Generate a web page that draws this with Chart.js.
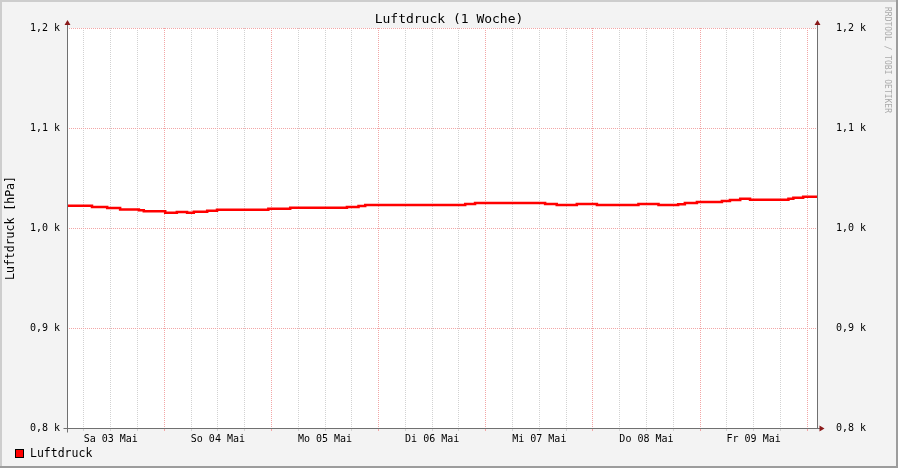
<!DOCTYPE html>
<html>
<head>
<meta charset="utf-8">
<title>Luftdruck (1 Woche)</title>
<script src="https://cdn.jsdelivr.net/npm/chart.js@4.4.1/dist/chart.umd.min.js"></script>
<style>
  html, body { margin: 0; padding: 0; background: #f3f3f3; }
  #wrap { width: 898px; height: 468px; position: relative; }
</style>
</head>
<body>
<div id="wrap"><canvas id="druck-chart"></canvas></div>
<script>
// Stunden seit Sa 03 Mai 00:00, jeweils Beginn einer Stufe
const hours = [2.2, 7.8, 11.2, 14.1, 18.3, 19.4, 24.2, 26.8, 29.1, 30.6, 33.6, 35.8,
  47.3, 52.2, 64.9, 67.5, 69.0, 91.4, 93.6, 109.3, 111.9, 116.4, 120.9, 130.2,
  134.7, 139.1, 140.6, 143.3, 148.9, 150.7, 153.0, 155.2, 163.8, 164.9, 167.1, 170.2];
// Luftdruck in hPa
const pressure = [1022.3, 1021, 1020, 1018.5, 1017.8, 1016.8, 1015.3, 1016, 1015.3, 1016.3, 1017.3, 1018.2,
  1019.2, 1020.2, 1021, 1022, 1023, 1024, 1025, 1024, 1023, 1024, 1023, 1024,
  1023, 1023.7, 1025, 1026, 1027, 1028, 1029.3, 1028.3, 1029.3, 1030.3, 1031.3, 1031.3];
const dayLabels = ["Sa 03 Mai", "So 04 Mai", "Mo 05 Mai", "Di 06 Mai", "Mi 07 Mai", "Do 08 Mai", "Fr 09 Mai"];
const yTicks = [800, 900, 1000, 1100, 1200];
const xMin = 2.2, xMax = 170.2;

const mono = "'DejaVu Sans Mono', monospace";
const gridGray = "#d2d2d2", gridRed = "#f2a6a6";

// alle 6 Stunden eine Gitterlinie, Mitternacht rot
let gridHours = [];
for (let h = 6; h <= 168; h += 6) gridHours.push(h);

const points = hours.map((h, i) => ({ x: h, y: pressure[i] }));

const fmtK = function (v) {
  return (v / 1000).toFixed(1).replace(".", ",") + " k";
};

const rrdFrame = {
  id: "rrdFrame",
  beforeDraw(c) {
    const ctx = c.ctx, a = c.chartArea;
    ctx.save();
    ctx.fillStyle = "#f3f3f3";
    ctx.fillRect(0, 0, c.width, c.height);
    ctx.fillStyle = "#cdcdcd";
    ctx.fillRect(0, 0, c.width, 2);
    ctx.fillRect(0, 0, 2, c.height);
    ctx.fillStyle = "#9c9c9c";
    ctx.fillRect(0, c.height - 2, c.width, 2);
    ctx.fillRect(c.width - 2, 0, 2, c.height);
    ctx.fillStyle = "#ffffff";
    ctx.fillRect(a.left, a.top, a.right - a.left, a.bottom - a.top);
    ctx.restore();
  },
  afterDraw(c) {
    const ctx = c.ctx, a = c.chartArea;
    const l = Math.round(a.left) + 0.5, r = Math.round(a.right) + 0.5, b = Math.round(a.bottom) + 0.5;
    ctx.save();
    // Achsen
    ctx.strokeStyle = "#707070";
    ctx.lineWidth = 1;
    ctx.beginPath();
    ctx.moveTo(l, a.top - 6); ctx.lineTo(l, b + 4);
    ctx.moveTo(r, a.top - 6); ctx.lineTo(r, b);
    ctx.moveTo(l - 4, b); ctx.lineTo(r + 3, b);
    ctx.stroke();
    // Pfeile
    ctx.fillStyle = "#8b1a1a";
    ctx.beginPath();
    ctx.moveTo(l, a.top - 8); ctx.lineTo(l - 3, a.top - 3); ctx.lineTo(l + 3, a.top - 3); ctx.closePath();
    ctx.moveTo(r, a.top - 8); ctx.lineTo(r - 3, a.top - 3); ctx.lineTo(r + 3, a.top - 3); ctx.closePath();
    ctx.moveTo(r + 7, b); ctx.lineTo(r + 2, b - 3); ctx.lineTo(r + 2, b + 3); ctx.closePath();
    ctx.fill();
    // Titel
    ctx.fillStyle = "#000";
    ctx.textAlign = "center";
    ctx.textBaseline = "middle";
    ctx.font = "13px " + mono;
    ctx.fillText("Luftdruck (1 Woche)", c.width / 2, 20);
    // Legende
    const ds = c.data.datasets[0];
    ctx.fillStyle = ds.borderColor;
    ctx.fillRect(15, 449, 9, 9);
    ctx.strokeStyle = "#000";
    ctx.strokeRect(15.5, 449.5, 8, 8);
    ctx.fillStyle = "#000";
    ctx.textAlign = "left";
    ctx.font = "11.5px " + mono;
    ctx.fillText(ds.label, 30, 454);
    // Wasserzeichen
    ctx.translate(887, 60);
    ctx.rotate(Math.PI / 2);
    ctx.fillStyle = "#aaaaaa";
    ctx.textAlign = "center";
    ctx.font = "8px " + mono;
    ctx.fillText("RRDTOOL / TOBI OETIKER", 0, 0);
    ctx.restore();
  }
};

const yScale = (pos, width, pad) => ({
  type: "linear",
  position: pos,
  min: 800,
  max: 1200,
  afterBuildTicks: s => { s.ticks = yTicks.map(v => ({ value: v })); },
  afterFit: s => { s.width = width; },
  grid: { color: gridRed, drawTicks: false, drawOnChartArea: pos === "left" },
  border: { display: false, dash: [1, 1] },
  ticks: { padding: pad, color: "#000", font: { family: mono, size: 10 }, callback: fmtK },
  title: pos === "left"
    ? { display: true, text: "Luftdruck [hPa]", color: "#000", padding: { top: 4, bottom: 0 }, font: { family: mono, size: 11.5 } }
    : { display: false }
});

new Chart(document.getElementById("druck-chart"), {
  type: "line",
  data: {
    datasets: [{
      label: "Luftdruck",
      data: points,
      borderColor: "#ff0000",
      backgroundColor: "#ff0000",
      borderWidth: 2.5,
      pointRadius: 0,
      stepped: true,
      fill: false
    }]
  },
  options: {
    responsive: true,
    maintainAspectRatio: false,
    animation: false,
    layout: { padding: { top: 28, left: 0, right: 0, bottom: 0 } },
    plugins: {
      legend: { display: false },
      title: { display: false },
      tooltip: { enabled: false }
    },
    scales: {
      x: {
        type: "linear",
        min: xMin,
        max: xMax,
        afterBuildTicks: s => { s.ticks = gridHours.map(v => ({ value: v })); },
        afterFit: s => { s.height = 40; },
        grid: {
          color: ctx => (ctx.tick && ctx.tick.value % 24 === 0) ? gridRed : gridGray,
          tickLength: 3
        },
        border: { display: false, dash: [1, 1] },
        ticks: {
          autoSkip: false,
          maxRotation: 0,
          padding: 2,
          color: "#000",
          font: { family: mono, size: 10 },
          callback: function (v) {
            const d = (v - 12) / 24;
            return Number.isInteger(d) ? dayLabels[d] : "";
          }
        }
      },
      y: yScale("left", 67, 7),
      y2: yScale("right", 81, 19)
    }
  },
  plugins: [rrdFrame]
});
</script>
</body>
</html>
